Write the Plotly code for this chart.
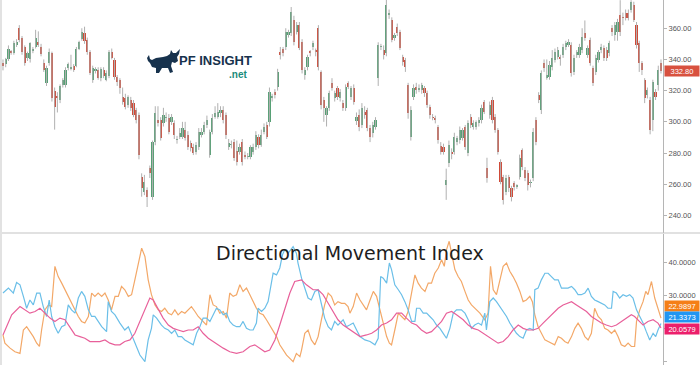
import plotly.graph_objects as go

W, H = 700, 365
PLOT_W = 663

# ---------------- price data (OHLC per bar) ----------------
opens = [
    338, 337, 340, 345, 344, 349, 360, 354, 348, 341,
    340, 346, 348, 351, 348, 338, 325, 338, 344, 320,
    316, 314, 323.5, 323.5, 334.5, 334.5, 336, 336, 347, 353,
    357, 352.5, 345, 327, 333, 333, 328, 333, 327, 329.5,
    345, 339.6, 328.7, 326.8, 316, 315.3, 310.8, 314, 312, 307.6,
    304.4, 264.6, 255, 256.3, 270.4, 251.8, 287.1, 301.2, 301.2, 299.3,
    302.5, 302.5, 299.9, 299.3, 288.4, 290.3, 290.3, 294.8, 291.6, 286.5,
    283.9, 280.7, 283.9, 291.6, 293.5, 298, 278.7, 293.5, 303.1, 303.1,
    305.7, 307.6, 304.4, 283.9, 285.2, 287.1, 281, 280.7, 287.1, 278.7,
    277.5, 277.5, 280.7, 283.9, 290.3, 285.2, 293.5, 298, 299.9, 315.9,
    319.1, 322.3, 344.8, 346.7, 348, 355.7, 356.9, 365.3, 357.6, 362.1,
    351.2, 330, 335.2, 344.8, 348, 346.1, 360.1, 331.9, 314, 304.4,
    308.9, 324.9, 315.3, 321.7, 315.3, 312.1, 308.9, 324.9, 315.9, 321.7,
    300.6, 304.4, 298, 306.3, 307.6, 296.1, 292.9, 296.7, 328.1, 348,
    346.1, 344.1, 369, 365.3, 353.7, 360.8, 357.6, 341.6, 339.6, 323.6,
    290.3, 315.9, 322.3, 320.4, 320.4, 321.7, 318.5, 309.5, 303.1, 302.5,
    296.7, 284.6, 283.9, 259.5, 273.6, 280.7, 280.7, 287.1, 288.4, 289.6,
    296.7, 280, 303.1, 296.7, 296.7, 299.3, 301.2, 312.7, 270.4, 304.4,
    314, 303.1, 294.8, 274.3, 264.6, 255, 264.6, 257.6, 260.8, 258.2,
    264.6, 282, 269.1, 267.2, 260.8, 264, 301.2, 317.2, 307.6, 337.7,
    328.1, 328.7, 335.2, 339.6, 341.6, 341, 342.8, 348, 349.3, 349.3,
    331.9, 342.8, 342.8, 346.1, 356.9, 342.8, 352.5, 334.5, 331.9, 339.6,
    346.1, 347.3, 346.1, 344.1, 360.1, 355.7, 357.6, 368.5, 367, 369.8,
    369.8, 371.7, 374.9, 362.1, 350.5, 337.7, 326.8, 317.2, 314, 301.2,
    319.1, 323.6, 337.7,
]
highs = [
    340, 341, 349, 346, 352, 353, 362, 355, 349, 345,
    351, 348, 359, 358, 350, 340, 336, 347, 345, 322,
    319, 324, 328, 335, 338, 343, 337, 348, 352, 360,
    361, 354, 346, 336, 335, 335, 335, 335, 333, 346,
    347, 341, 330, 328, 322, 318, 317, 316, 314, 309,
    306, 267, 266, 258, 272, 288, 310, 310, 303, 309,
    306, 305, 305, 301, 291, 296, 300, 300, 294, 288,
    286, 287, 296, 296, 300, 304, 295, 305, 310, 312,
    310, 310, 306, 289, 288, 289, 288, 286, 289, 281,
    280, 285, 286, 294, 292, 295, 299, 300, 322, 318,
    321, 334, 348, 348, 360, 359, 373.6, 368, 364, 364,
    353, 335, 343, 346, 352, 347, 362, 333, 316, 310,
    320, 328, 320, 323, 321, 314, 324, 326, 323, 324,
    306, 308, 312, 310, 309, 298, 300, 303, 351, 350,
    349, 380, 372, 367, 357, 363, 359, 343, 341, 325,
    310, 324, 325, 324, 325, 323, 320, 311, 305, 304,
    298, 287, 286, 270, 288, 283, 293, 291, 297, 296,
    298, 301, 305, 301, 301, 303, 311, 314, 277, 313,
    316, 305, 296, 276, 266, 266, 266, 259, 262, 260,
    279, 283, 271, 269, 263, 296, 303, 319, 333, 340,
    340, 339, 346, 347, 348, 343, 350, 352, 353, 351,
    343, 346, 350, 360, 365, 349, 354, 336, 343, 346,
    350, 349, 348, 352, 362, 364, 366, 378, 370, 372,
    372, 378, 377, 364, 352, 339, 328, 322, 316, 327,
    321, 336, 340,
]
lows = [
    333, 335, 339, 343, 343, 348, 351, 343, 336, 339,
    338, 344, 347, 348, 342, 332, 323, 336, 313, 295,
    306, 312, 322, 322, 333, 333, 332, 335, 346, 352,
    350, 343, 330, 325, 331, 327, 326, 328, 326, 328,
    340, 327, 323, 318, 311, 308, 309, 307, 303, 299,
    276, 252, 253, 245.4, 264, 250, 285, 297, 288, 297,
    300, 292, 298, 289, 286, 289, 289, 288, 282, 281,
    278.7, 279, 282, 290, 292, 296, 277, 292, 302, 302,
    303, 299, 289, 282, 283, 275, 272, 279, 272, 276,
    276, 276, 279, 282, 283, 284, 292, 289, 297, 313,
    315, 320, 340, 342, 346, 354, 355, 349, 356, 346,
    331, 327, 333, 342, 346, 342, 333, 308, 300, 297,
    307, 320, 313, 314, 313, 307, 307, 321, 314, 311,
    298, 294, 296, 302, 294, 287, 290, 295, 323, 346,
    340, 342, 366, 351, 352, 355, 346, 336, 332, 302,
    288, 314, 318, 319, 318, 316, 309, 302, 301, 299,
    286, 279, 279, 250, 271, 276, 279, 285, 286, 288,
    282, 278, 296, 295, 295, 297, 299, 305, 261, 302,
    299, 293, 279, 260, 247, 253, 255, 249, 256, 257,
    263, 269, 262, 256, 258, 262, 285, 312, 305, 332,
    327, 327, 333, 338, 340, 336, 341, 346, 348, 329,
    330, 341, 341, 344, 352, 341, 336, 323, 330, 338,
    344, 339, 339, 342, 355, 352, 352, 355, 362, 365,
    365, 370, 364, 347, 332, 330, 312, 315, 292, 294,
    314, 320, 331,
]
closes = [
    336, 340, 347, 344.5, 350.5, 351.5, 352.5, 345, 338, 344,
    350.5, 347, 354, 349, 343.5, 333, 334.5, 345, 315, 309.5,
    315, 323, 327, 333, 337, 335, 333, 347, 351, 357.6,
    352, 345, 331, 334.5, 333.5, 328, 334, 329.5, 331, 345,
    341, 328.7, 325.5, 321.7, 312.7, 309.5, 315.9, 308.9, 304.4, 301.2,
    278.7, 257.6, 261.4, 251.8, 267.2, 287.1, 305.7, 299.3, 289.6, 304.4,
    303, 293.5, 303.1, 291.6, 289, 292.9, 296, 289.6, 283.9, 283.3,
    280, 285.2, 293.5, 293.5, 298, 301.2, 293.5, 302.5, 305.7, 306.3,
    307.6, 301.2, 291.6, 286.5, 285.8, 276.8, 274.3, 283.9, 274.3, 278,
    278.1, 283.9, 283.9, 291.6, 285.2, 291.6, 296.7, 290.3, 319.1, 316.5,
    317.2, 331.9, 342.8, 344.1, 357.6, 357.6, 370.4, 351.2, 362.1, 347.3,
    333.2, 333.2, 341.6, 344.1, 350.5, 344.8, 335.2, 310.8, 308.9, 308.9,
    318.5, 321.7, 318.5, 315.9, 319.1, 308.9, 322.3, 322.3, 321.7, 312.7,
    303.1, 296.7, 308.9, 304.4, 296.1, 290.3, 298, 301.2, 349.3, 348.3,
    342.8, 375, 369.8, 352.5, 355.7, 356.9, 347.3, 338.4, 335.2, 305.7,
    307.6, 321.7, 320.4, 321.7, 323.6, 318.5, 310.8, 304.4, 302.8, 301.2,
    288.4, 280.7, 280.7, 262.7, 285.2, 279.4, 290.3, 289.6, 294.8, 294.8,
    283.9, 299.3, 298, 299.3, 299.9, 301.2, 308.9, 306.3, 264, 310.8,
    301.2, 294.8, 280.7, 261.4, 249.9, 264, 257.6, 251.8, 258.2, 259.5,
    276.8, 271, 264, 259.5, 261.4, 293.5, 287.1, 314, 331.3, 334.5,
    330, 336.4, 340.9, 344.8, 346.1, 340.9, 348, 350.5, 351.2, 331.3,
    340.9, 344.8, 348, 354.4, 353.7, 347.3, 337.7, 324.9, 340.9, 344.8,
    348, 340.9, 340.9, 350.5, 357.6, 362.1, 364, 357.6, 366.6, 366.6,
    366.6, 376.8, 365.3, 349.3, 337.7, 333.2, 315.3, 320.4, 294.8, 325.5,
    315.9, 333.2, 332.8,
]

# ---------------- DMI data (bar position, value) ----------------
plus_di_pts = [
    (0, 30.6), (0.7, 31.1), (2.0, 32.1), (3.2, 31.1), (3.8, 30.6), (5.0, 33.8), (6.25, 33.1),
    (7.5, 29.6), (8.7, 26.0), (9.9, 28.5), (11.15, 27.0), (12.4, 30.6), (13.6, 30.6), (14.8, 26.5),
    (16.05, 23.5), (17.0, 28.5), (17.9, 23.5), (19.1, 20.4), (20.3, 18.4), (21.6, 20.4), (22.8, 20.9),
    (24.0, 27.0), (25.2, 25.5), (26.5, 24.5), (27.7, 29.1), (28.9, 31.1), (30.1, 29.6), (31.4, 25.5),
    (32.6, 23.5), (33.8, 23.5), (35.0, 22.0), (36.3, 20.4), (38.1, 18.9), (38.7, 28.0), (39.9, 25.0),
    (41.2, 24.0), (43.0, 21.5), (44.8, 19.4), (46.1, 20.4), (47.3, 17.9), (48.5, 15.4), (50.35, 11.8),
    (52.2, 9.8), (53.4, 16.4), (54.6, 19.9), (55.25, 24.0), (56.5, 23.0), (58.3, 20.9), (59.5, 19.9),
    (60.8, 19.4), (62.0, 18.4), (63.2, 19.4), (64.4, 17.4), (65.7, 17.4), (66.9, 16.4), (68.7, 15.4),
    (69.95, 14.9), (71.2, 18.4), (72.4, 20.4), (73.6, 23.0), (74.85, 23.0), (76.1, 22.0), (77.3, 24.0),
    (78.5, 26.0), (79.75, 25.5), (81.0, 24.0), (82.2, 24.5), (83.4, 22.0), (84.65, 20.9), (85.9, 20.4),
    (87.1, 20.4), (88.3, 22.0), (89.55, 19.9), (90.8, 19.4), (92.0, 19.4), (93.2, 21.5), (93.8, 26.0),
    (95.1, 25.0), (96.3, 26.0), (97.5, 28.0), (98.7, 33.6), (99.35, 36.6), (100.6, 36.1), (101.8, 38.2),
    (102.8, 42.2), (103.6, 43.7), (104.9, 42.7), (106.7, 44.7), (107.9, 42.7), (108.5, 39.7),
    (109.8, 35.1), (111.0, 32.1), (112.2, 29.1), (113.4, 28.5), (114.7, 31.1), (115.9, 31.6),
    (117.1, 27.0), (118.3, 23.0), (119.6, 20.4), (120.8, 19.4), (122.0, 22.0), (123.2, 20.9),
    (125.1, 22.5), (126.3, 20.4), (127.5, 20.9), (128.8, 21.5), (130.05, 19.4), (131.3, 17.4),
    (133.1, 16.4), (135.0, 15.9), (136.8, 14.9), (138.0, 16.9), (138.9, 35.6), (139.85, 35.1),
    (141.1, 33.6), (142.1, 39.7), (142.9, 37.7), (144.1, 33.1), (145.4, 31.6), (146.6, 30.1),
    (147.8, 28.0), (149.0, 25.5), (150.3, 22.0), (151.5, 22.0), (152.1, 26.0), (153.3, 26.0),
    (154.55, 24.5), (155.8, 24.5), (157.0, 23.5), (158.2, 22.5), (159.45, 20.9), (160.7, 19.9),
    (161.9, 18.4), (163.1, 16.9), (164.35, 19.9), (165.6, 24.5), (166.8, 25.5), (168.6, 25.5),
    (169.9, 24.5), (171.1, 22.5), (172.3, 19.9), (173.5, 20.9), (174.8, 21.5), (176.0, 20.9),
    (177.2, 24.5), (177.8, 19.4), (179.05, 28.0), (180.3, 29.1), (181.5, 28.0), (182.7, 26.5),
    (183.95, 25.0), (185.2, 23.5), (186.4, 21.5), (187.6, 19.9), (188.85, 18.4), (190.1, 17.4),
    (191.3, 16.9), (192.5, 19.4), (193.75, 19.9), (195.0, 19.4), (195.6, 31.6), (196.8, 32.1),
    (198.0, 34.6), (199.3, 36.6), (200.5, 36.6), (201.7, 35.6), (202.9, 34.6), (204.2, 34.6),
    (205.4, 32.1), (206.6, 32.1), (207.8, 32.1), (209.1, 32.6), (210.3, 31.6), (211.5, 30.1),
    (212.7, 30.1), (214.0, 30.6), (215.2, 32.1), (216.4, 29.6), (217.6, 28.5), (218.9, 28.0),
    (220.1, 27.5), (221.3, 27.0), (222.5, 26.0), (223.8, 26.0), (224.4, 31.1), (225.6, 30.6),
    (226.8, 29.1), (228.05, 30.1), (229.3, 29.6), (230.5, 30.1), (231.7, 29.1), (233.0, 25.5),
    (234.2, 23.5), (235.4, 21.5), (236.6, 18.9), (237.85, 16.4), (239.1, 18.4), (240.05, 17.4),
    (240.9, 19.4), (242, 21.34),
]
minus_di_pts = [
    (0, 17.9), (0.7, 15.4), (2.6, 13.9), (4.4, 12.8), (6.25, 12.3), (7.5, 19.4), (8.7, 20.4),
    (9.9, 18.9), (11.15, 17.4), (12.4, 15.4), (13.4, 14.4), (14.2, 19.4), (15.4, 25.5), (16.7, 27.0),
    (17.9, 26.5), (19.1, 38.7), (20.3, 35.6), (21.6, 33.6), (22.8, 31.6), (24.0, 29.6), (25.2, 28.0),
    (26.5, 25.5), (27.7, 23.5), (28.9, 22.0), (30.1, 21.5), (31.4, 23.5), (32.6, 30.6), (33.8, 29.6),
    (35.0, 30.6), (36.3, 29.6), (37.5, 30.6), (38.7, 28.5), (39.9, 25.5), (41.2, 29.6), (42.4, 29.6),
    (43.6, 32.6), (44.8, 31.6), (46.1, 29.6), (47.3, 30.1), (48.5, 34.6), (49.7, 39.7), (51.0, 44.2),
    (52.2, 41.7), (53.4, 34.6), (54.6, 30.1), (55.9, 27.0), (57.1, 25.5), (58.3, 25.0), (59.5, 26.0),
    (60.8, 24.5), (62.0, 24.0), (63.2, 25.5), (64.4, 24.0), (65.7, 25.0), (66.9, 24.5), (68.1, 25.5),
    (69.3, 26.5), (70.6, 25.0), (71.8, 23.5), (73.0, 22.5), (74.85, 20.9), (76.1, 30.1), (77.3, 27.0),
    (78.5, 26.5), (79.75, 24.5), (81.0, 25.0), (82.2, 23.0), (83.4, 30.6), (84.65, 29.6), (85.9, 30.1),
    (87.1, 33.1), (88.3, 31.1), (89.55, 32.1), (90.8, 30.1), (92.0, 28.0), (93.2, 26.0), (94.45, 24.5),
    (95.7, 24.0), (96.9, 22.5), (98.1, 20.9), (99.35, 19.4), (100.6, 17.4), (101.8, 14.9), (103.0, 13.3),
    (104.3, 11.8), (105.5, 10.8), (106.7, 9.8), (107.9, 12.3), (109.2, 11.3), (109.8, 13.3), (111.0, 18.4),
    (112.2, 19.4), (113.4, 16.4), (114.7, 14.9), (115.9, 17.4), (117.1, 22.5), (118.3, 27.0), (119.6, 30.6),
    (120.8, 29.6), (122.0, 27.0), (123.2, 28.0), (124.5, 27.5), (125.7, 27.5), (126.9, 26.5), (127.6, 24.5),
    (128.8, 26.5), (130.05, 30.6), (131.3, 28.5), (132.5, 27.0), (133.7, 25.5), (135.0, 28.5), (136.2, 31.1),
    (137.4, 29.6), (138.6, 25.5), (139.85, 21.5), (141.1, 17.4), (142.1, 15.4), (142.9, 14.9), (144.1, 19.4),
    (145.4, 24.5), (146.6, 23.5), (147.8, 22.5), (149.0, 25.0), (150.3, 31.1), (151.5, 36.1), (152.7, 33.6),
    (153.9, 32.1), (155.2, 31.1), (156.4, 33.6), (157.6, 33.6), (158.8, 36.6), (160.1, 38.2), (161.3, 40.7),
    (162.3, 38.7), (163.1, 43.7), (164.1, 46.3), (165.0, 42.2), (166.2, 37.7), (167.4, 35.6), (168.6, 34.1),
    (169.9, 31.1), (171.1, 28.5), (172.3, 27.0), (173.5, 26.0), (175.4, 24.5), (177.2, 22.5), (178.4, 24.5),
    (179.3, 38.7), (180.3, 31.6), (181.5, 30.1), (182.7, 34.6), (183.95, 38.7), (185.2, 39.7), (186.4, 37.2),
    (187.6, 35.6), (188.85, 33.6), (190.1, 31.1), (191.3, 28.0), (192.5, 28.5), (193.75, 29.6), (194.7, 28.0),
    (195.6, 24.0), (196.8, 20.4), (198.0, 18.4), (199.3, 16.4), (200.5, 15.9), (201.7, 15.4), (202.9, 14.9),
    (204.2, 17.4), (205.4, 16.9), (206.6, 15.9), (207.8, 15.4), (209.1, 17.4), (210.3, 19.9), (211.5, 21.5),
    (212.7, 19.9), (214.0, 17.4), (215.2, 16.4), (216.4, 18.4), (217.6, 26.0), (218.9, 23.5), (220.1, 22.5),
    (221.3, 19.9), (222.5, 19.4), (223.8, 18.4), (225.0, 19.4), (226.2, 17.4), (227.4, 14.9), (228.7, 14.4),
    (229.9, 15.4), (231.1, 14.4), (232.3, 14.4), (233.0, 22.0), (234.2, 25.5), (235.4, 28.0), (236.4, 31.1),
    (237.2, 30.1), (238.5, 34.1), (239.7, 29.1), (240.9, 25.5), (242, 22.99),
]
adx_pts = [
    (0, 17.9), (1.35, 20.4), (3.2, 24.0), (6.25, 26.5), (8.1, 25.5), (9.9, 24.5), (11.8, 25.0),
    (13.6, 26.0), (15.4, 24.5), (17.3, 23.0), (19.1, 22.0), (20.95, 23.0), (22.8, 22.5), (24.6, 20.4),
    (26.5, 17.9), (28.3, 17.4), (30.1, 16.9), (32.0, 15.9), (33.8, 15.9), (35.6, 15.9), (37.5, 16.4),
    (39.3, 15.4), (41.2, 14.9), (43.0, 14.9), (44.8, 15.9), (46.7, 16.4), (48.5, 18.4), (50.35, 22.0),
    (52.2, 26.0), (54.0, 29.1), (55.25, 28.5), (57.1, 25.5), (58.9, 23.0), (60.8, 20.9), (62.6, 19.9),
    (64.4, 19.4), (66.3, 18.9), (68.1, 19.4), (69.95, 19.4), (71.8, 20.4), (73.6, 18.4), (75.5, 16.9),
    (77.3, 15.9), (79.1, 14.9), (81.0, 13.9), (83.4, 12.8), (85.9, 12.3), (88.3, 12.8), (90.8, 14.4),
    (92.6, 14.9), (94.45, 13.9), (96.3, 12.8), (98.1, 13.3), (100.0, 16.4), (101.8, 20.9), (103.6, 25.5),
    (105.5, 30.6), (107.3, 34.1), (109.8, 34.6), (111.6, 33.1), (114.05, 31.6), (115.9, 31.6),
    (117.7, 30.1), (119.6, 27.5), (121.4, 25.0), (123.2, 22.5), (125.1, 20.9), (126.9, 19.9),
    (129.4, 18.4), (131.3, 17.4), (133.7, 17.9), (135.6, 18.4), (137.4, 19.4), (139.2, 20.9),
    (141.1, 21.5), (142.9, 22.5), (144.75, 24.5), (146.6, 24.5), (148.4, 23.0), (150.3, 21.5),
    (152.1, 20.9), (153.9, 19.4), (155.8, 18.4), (157.6, 18.9), (159.45, 20.4), (161.3, 22.0),
    (163.1, 24.5), (165.0, 25.0), (166.8, 24.0), (169.25, 22.5), (171.1, 20.9), (172.9, 19.9),
    (174.8, 19.4), (176.6, 18.4), (178.4, 17.4), (180.3, 16.4), (182.1, 15.4), (183.95, 15.9),
    (185.8, 17.4), (187.6, 19.4), (189.5, 20.9), (191.3, 19.9), (193.1, 19.4), (195.0, 19.4),
    (196.8, 19.9), (198.65, 21.5), (200.5, 23.0), (202.3, 24.5), (204.2, 26.0), (206.0, 27.0),
    (207.8, 27.5), (209.1, 28.0), (210.9, 27.0), (212.7, 26.0), (214.6, 25.0), (216.4, 23.5),
    (218.25, 22.5), (220.1, 21.5), (221.9, 20.9), (223.8, 20.4), (225.6, 20.9), (227.4, 22.0),
    (229.3, 23.0), (231.1, 24.0), (232.3, 23.5), (233.6, 22.5), (235.4, 20.9), (237.2, 22.0),
    (239.1, 22.5), (240.9, 21.5), (242, 20.06),
]

price_ticks = [240, 260, 280, 300, 320, 340, 360]
dmi_ticks = [10, 20, 30, 40]
last_price_text = "332.80"
minus_di_text = "22.9897"
plus_di_text = "21.3373"
adx_text = "20.0579"

GREEN = "#57a075"
RED = "#cf4a38"
WICK = "#b0b0b0"
BLUE = "#6bbfe8"
ORANGE = "#f3a868"
PINK = "#e8609a"
AXIS = "#b5b5b5"

bars = list(range(len(closes)))

# wicks as one line trace with gaps
wx, wy = [], []
for i, lo, hi in zip(bars, lows, highs):
    wx += [i, i, None]
    wy += [lo, hi, None]

body_colors = [GREEN if c >= o else RED for o, c in zip(opens, closes)]

fig = go.Figure()
fig.add_trace(go.Scatter(x=wx, y=wy, mode="lines", line=dict(color=WICK, width=1),
                         hoverinfo="skip", xaxis="x", yaxis="y"))
fig.add_trace(go.Bar(x=bars, y=[c - o for o, c in zip(opens, closes)], base=opens,
                     width=0.8, marker=dict(color=body_colors, line=dict(width=0)),
                     xaxis="x", yaxis="y"))

for pts, col in [(minus_di_pts, ORANGE), (plus_di_pts, BLUE), (adx_pts, PINK)]:
    fig.add_trace(go.Scatter(x=[p[0] for p in pts], y=[p[1] for p in pts], mode="lines",
                             line=dict(color=col, width=1.2), xaxis="x2", yaxis="y2"))

XR = [-1.1, 242.74]
fig.update_layout(
    width=W, height=H,
    margin=dict(l=0, r=W - PLOT_W, t=0, b=0),
    paper_bgcolor="white", plot_bgcolor="white",
    showlegend=False, bargap=0,
    xaxis=dict(domain=[0, 1], range=XR, visible=False, anchor="y"),
    xaxis2=dict(domain=[0, 1], range=XR, visible=False, anchor="y2", matches="x"),
    yaxis=dict(domain=[1 - 233 / H, 1], range=[228.75, 378.1], side="right", anchor="x",
               tickvals=price_ticks, tickformat=".2f", showgrid=False, zeroline=False,
               showline=True, linecolor=AXIS, linewidth=1, ticks="outside", ticklen=3,
               tickcolor=AXIS, tickfont=dict(family="Liberation Sans", size=7.5, color="#555555")),
    yaxis2=dict(domain=[0, 1 - 234 / H], range=[8.79, 48.5], side="right", anchor="x2",
                tickvals=dmi_ticks, tickformat=".4f", showgrid=False, zeroline=False,
                showline=True, linecolor=AXIS, linewidth=1, ticks="outside", ticklen=3,
                tickcolor=AXIS, tickfont=dict(family="Liberation Sans", size=7.5, color="#555555")),
)


def px(xp):
    return xp / PLOT_W


def py(yp):
    return 1 - yp / H


shapes = [
    dict(type="line", xref="paper", yref="paper", x0=0, x1=W / PLOT_W, y0=py(233), y1=py(233),
         line=dict(color="#c4c4c4", width=1.2)),
    dict(type="line", xref="paper", yref="paper", x0=px(1), x1=px(1), y0=0, y1=1,
         line=dict(color="#e2e2e2", width=2)),
]

# logo bull silhouette (decoration)
bull = [(147, 58), (149, 55), (150, 59), (152, 60), (156, 58), (163, 57), (167, 56), (170, 54),
        (171, 50), (173, 53), (176, 53), (180, 49), (179, 54), (177, 57), (178, 61), (175, 63),
        (172, 62), (171, 66), (173, 72), (170, 73), (168, 68), (162, 68), (159, 73), (156, 73),
        (156, 68), (152, 67), (150, 63), (148, 61)]
path = "M " + " L ".join(f"{px(a):.5f},{py(b):.5f}" for a, b in bull) + " Z"
shapes.append(dict(type="path", xref="paper", yref="paper", path=path,
                   fillcolor="#17324d", line=dict(width=0)))
fig.update_layout(shapes=shapes)

ann = [
    dict(text="Directional Movement Index", x=px(350), y=py(253), xref="paper", yref="paper",
         showarrow=False, xanchor="center", yanchor="middle",
         font=dict(family="DejaVu Sans", size=19, color="#1e1e1e")),
    dict(text="<b>PF INSIGHT</b>", x=px(178), y=py(61), xref="paper", yref="paper",
         showarrow=False, xanchor="left", yanchor="middle", borderpad=0,
         font=dict(family="Liberation Sans", size=13, color="#17324d")),
    dict(text="<b>.net</b>", x=px(248), y=py(74), xref="paper", yref="paper",
         showarrow=False, xanchor="right", yanchor="middle", borderpad=0,
         font=dict(family="Liberation Sans", size=10, color="#1b8c7b")),
]
for txt, ypix, bg in [(last_price_text, 71, "#d8513f"), (minus_di_text, 306, "#f57f17"),
                      (plus_di_text, 317, "#2196f3"), (adx_text, 328.5, "#ec1f6b")]:
    ann.append(dict(text=txt, x=px(664), y=py(ypix), xref="paper", yref="paper", showarrow=False,
                    xanchor="left", yanchor="middle", bgcolor=bg, width=34, height=10, borderpad=0,
                    font=dict(family="Liberation Sans", size=7.5, color="white")))
fig.update_layout(annotations=ann)

fig.write_html("out.html")
